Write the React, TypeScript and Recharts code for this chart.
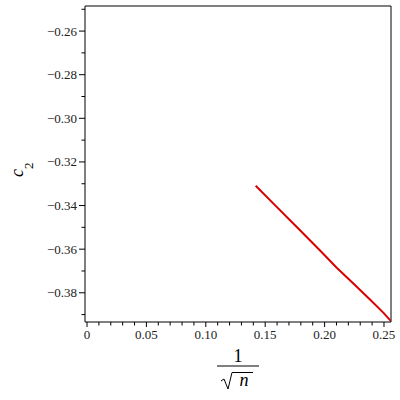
import React from "react";
import { LineChart, Line, XAxis, YAxis, ReferenceLine } from "recharts";

// c2 against 1/sqrt(n)
const invSqrtN = [0.142, 0.1582, 0.1793, 0.1976, 0.2102, 0.2242, 0.2382, 0.2494, 0.2559];
const c2 = [-0.3309, -0.3398, -0.3513, -0.3614, -0.3685, -0.3757, -0.3831, -0.3891, -0.393];

const xTicks = [
  0, 0.01, 0.02, 0.03, 0.04, 0.05, 0.06, 0.07, 0.08, 0.09, 0.1, 0.11, 0.12,
  0.13, 0.14, 0.15, 0.16, 0.17, 0.18, 0.19, 0.2, 0.21, 0.22, 0.23, 0.24, 0.25,
];
const xLabels = ["0", "0.05", "0.10", "0.15", "0.20", "0.25"];
const yTicks = [
  -0.39, -0.38, -0.37, -0.36, -0.35, -0.34, -0.33, -0.32, -0.31, -0.3, -0.29,
  -0.28, -0.27, -0.26, -0.25,
];
const yLabels = ["−0.38", "−0.36", "−0.34", "−0.32", "−0.30", "−0.28", "−0.26"];

const X_DOMAIN: [number, number] = [-0.0017, 0.2559];
const Y_DOMAIN: [number, number] = [-0.3934, -0.2485];

const SERIF = "'Liberation Serif', Tinos, 'Times New Roman', Times, 'Nimbus Roman', 'DejaVu Serif', serif";

const data = invSqrtN.map((x, i) => ({ x, y: c2[i] }));

function XTick(props: any) {
  const { x, y, payload } = props;
  const i = Math.round(payload.value * 100);
  const major = i % 5 === 0;
  return (
    <g>
      <line x1={x} y1={y} x2={x} y2={y + (major ? 5 : 3.5)} stroke="#000" />
      {major && (
        <text x={x} y={y + 17} textAnchor="middle" fontSize={13} fontFamily={SERIF} fill="#222">
          {xLabels[i / 5]}
        </text>
      )}
    </g>
  );
}

function YTick(props: any) {
  const { x, y, payload } = props;
  const i = Math.round(payload.value * 100) + 38; // 0 at -0.38
  const major = i % 2 === 0;
  return (
    <g>
      <line x1={x - (major ? 6 : 3.5)} y1={y} x2={x} y2={y} stroke="#000" />
      {major && (
        <text x={x - 8} y={y + 4.5} textAnchor="end" fontSize={13} fontFamily={SERIF} fill="#222">
          {yLabels[i / 2]}
        </text>
      )}
    </g>
  );
}

function XTitle(props: any) {
  const { viewBox } = props;
  const cx = viewBox.x + viewBox.width / 2;
  const top = viewBox.y;
  return (
    <g fill="#000">
      <text x={cx} y={top + 40} textAnchor="middle" fontSize={18} fontFamily={SERIF}>
        1
      </text>
      <line x1={cx - 21} y1={top + 44} x2={cx + 21} y2={top + 44} stroke="#000" strokeWidth={1} />
      <path
        d={`M ${cx - 17} ${top + 59} L ${cx - 14} ${top + 57} L ${cx - 10} ${top + 67} L ${cx - 6} ${top + 50.5} L ${cx + 15} ${top + 50.5}`}
        fill="none"
        stroke="#000"
        strokeWidth={1}
      />
      <text x={cx + 6} y={top + 64} textAnchor="middle" fontSize={18} fontStyle="italic" fontFamily={SERIF}>
        n
      </text>
    </g>
  );
}

function YTitle() {
  return (
    <text
      x={23}
      y={177}
      transform="rotate(-90, 23, 177)"
      fontSize={18}
      fontStyle="italic"
      fill="#000"
      fontFamily={SERIF}
    >
      c
      <tspan dy={10} fontSize={13} fontStyle="normal">
        2
      </tspan>
    </text>
  );
}

export default function App() {
  return (
    <div style={{ position: "absolute", left: 0, top: 0, background: "#fff" }}>
      <LineChart
        width={400}
        height={400}
        data={data}
        margin={{ top: 6, right: 9, bottom: 0, left: 0 }}
      >
        <XAxis
          dataKey="x"
          type="number"
          domain={X_DOMAIN}
          allowDataOverflow
          ticks={xTicks}
          interval={0}
          tick={<XTick />}
          tickLine={false}
          tickSize={0}
          tickMargin={0}
          height={78}
          axisLine={{ stroke: "#000" }}
          label={<XTitle />}
        />
        <YAxis
          dataKey="y"
          type="number"
          domain={Y_DOMAIN}
          allowDataOverflow
          ticks={yTicks}
          interval={0}
          tick={<YTick />}
          tickLine={false}
          tickSize={0}
          tickMargin={0}
          width={85}
          axisLine={{ stroke: "#000" }}
          label={<YTitle />}
        />
        <ReferenceLine y={Y_DOMAIN[1]} stroke="#000" />
        <ReferenceLine x={X_DOMAIN[1]} stroke="#000" />
        <Line
          dataKey="y"
          stroke="#d80000"
          strokeWidth={2}
          dot={false}
          isAnimationActive={false}
        />
      </LineChart>
    </div>
  );
}
